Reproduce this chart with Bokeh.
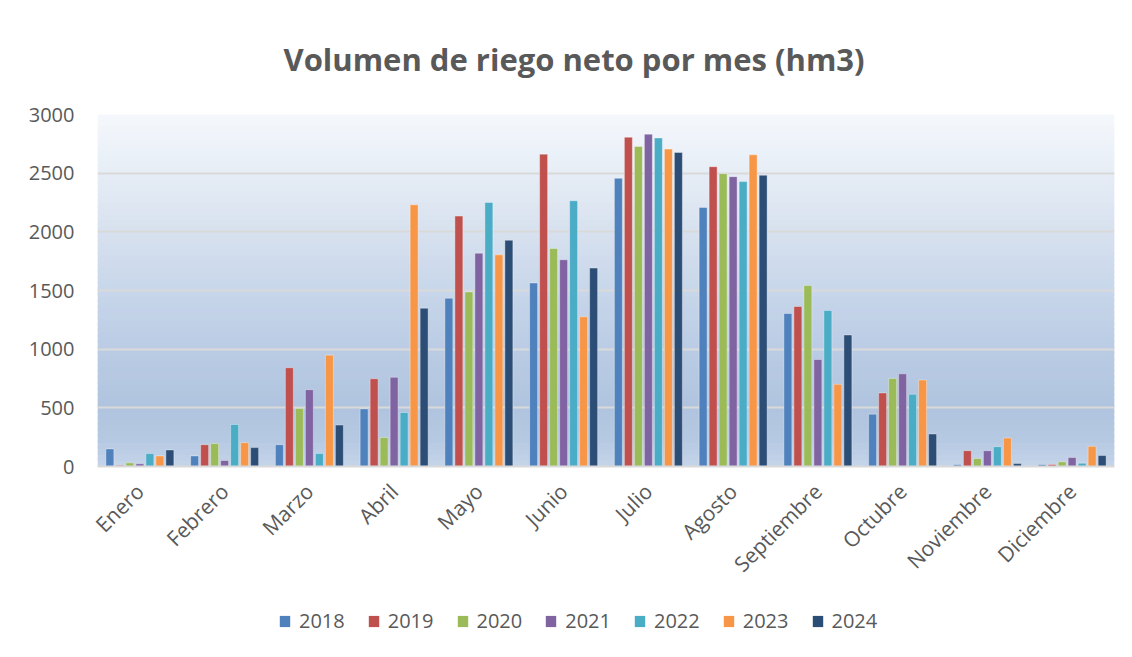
import math
from bokeh.plotting import figure
from bokeh.layouts import column
from bokeh.models import (ColumnDataSource, FactorRange, Range1d, Legend, LegendItem,
                          BoxAnnotation, SingleIntervalTicker)
from bokeh.transform import dodge
from bokeh.embed import file_html
from bokeh.resources import INLINE

months = ["Enero", "Febrero", "Marzo", "Abril", "Mayo", "Junio", "Julio",
          "Agosto", "Septiembre", "Octubre", "Noviembre", "Diciembre"]
years = ["2018", "2019", "2020", "2021", "2022", "2023", "2024"]

v2018 = [150, 90, 186, 491, 1434, 1564, 2456, 2208, 1304, 446, 17, 17]
v2019 = [10, 186, 842, 748, 2134, 2662, 2806, 2555, 1364, 627, 135, 17]
v2020 = [31, 195, 495, 248, 1488, 1858, 2727, 2496, 1542, 751, 68, 40]
v2021 = [23, 51, 655, 760, 1818, 1762, 2832, 2470, 912, 790, 135, 76]
v2022 = [110, 358, 110, 460, 2250, 2265, 2800, 2428, 1330, 616, 169, 28]
v2023 = [90, 203, 949, 2230, 1804, 1276, 2705, 2656, 700, 737, 243, 172]
v2024 = [141, 161, 353, 1349, 1928, 1691, 2676, 2482, 1121, 277, 25, 93]
series = [v2018, v2019, v2020, v2021, v2022, v2023, v2024]

colors = ["#4f81bd", "#c0504d", "#9bbb59", "#8064a2", "#4bacc6", "#f79646", "#2c4d75"]
TEXT = "#595959"
GRID = "#d9d9d9"

data = {"month": months}
for y, v in zip(years, series):
    data[y] = v
source = ColumnDataSource(data)

x_range = FactorRange(*months)
p = figure(x_range=x_range, y_range=Range1d(0, 3000),
           width=1132, height=590, output_backend="svg", toolbar_location=None,
           min_border_left=97, min_border_right=18, min_border_top=112,
           min_border_bottom=124)
p.outline_line_color = None
p.background_fill_color = "white"
p.border_fill_color = "white"

# title
p.title.text = "Volumen de riego neto por mes (hm3)"
p.title.align = "left"
p.title.offset = 186
p.title.standoff = 70
p.title.text_font = "Open Sans"
p.title.text_font_style = "bold"
p.title.text_font_size = "31px"
p.title.text_color = TEXT

# gradient background of the plot area
stops = [(0, "#c5d4e9"), (250, "#b4c8e1"), (500, "#b0c4df"), (1000, "#bacce4"),
         (1500, "#c8d6ea"), (2000, "#d7e1ef"), (2500, "#e6edf6"), (3000, "#f5f8fc")]

def hex2rgb(h):
    return tuple(int(h[i:i + 2], 16) for i in (1, 3, 5))

def color_at(yv):
    for (y0, c0), (y1, c1) in zip(stops[:-1], stops[1:]):
        if y0 <= yv <= y1:
            t = (yv - y0) / (y1 - y0)
            a, b = hex2rgb(c0), hex2rgb(c1)
            return "#%02x%02x%02x" % tuple(round(a[i] + (b[i] - a[i]) * t) for i in range(3))
    return stops[-1][1]

nb = 60
step = 3000 / nb
for i in range(nb):
    b0 = i * step
    p.add_layout(BoxAnnotation(bottom=b0, top=b0 + step + 30, fill_color=color_at(b0 + step / 2),
                               fill_alpha=1, line_color=None, level="image"))

bar_w = 0.094
pitch = 0.118
for i, (y, c) in enumerate(zip(years, colors)):
    p.vbar(x=dodge("month", (i - 3) * pitch, range=x_range), top=y, width=bar_w,
           source=source, fill_color=c, line_color="white", line_alpha=0.35, line_width=1)

# grid
p.xgrid.grid_line_color = None
p.ygrid.grid_line_color = GRID
p.ygrid.grid_line_width = 2

# axes
p.yaxis.ticker = SingleIntervalTicker(interval=500)
p.yaxis.axis_line_color = None
p.yaxis.major_tick_line_color = None
p.yaxis.minor_tick_line_color = None
p.yaxis.major_label_standoff = 17
p.yaxis.major_label_text_font = "Open Sans"
p.yaxis.major_label_text_font_size = "20px"
p.yaxis.major_label_text_color = TEXT

p.xaxis.axis_line_color = GRID
p.xaxis.axis_line_width = 2
p.xaxis.major_tick_line_color = None
p.xaxis.minor_tick_line_color = None
p.xaxis.major_label_orientation = math.pi / 4
p.xaxis.major_label_standoff = 15
p.xaxis.major_label_text_font = "Open Sans"
p.xaxis.major_label_text_font_size = "21px"
p.xaxis.major_label_text_color = TEXT

# legend strip: a second canvas whose renderers are hidden, so only the legend shows
p2 = figure(x_range=x_range, y_range=Range1d(-10, -5), width=1132, height=67,
            output_backend="svg", toolbar_location=None,
            x_axis_location=None, y_axis_location=None,
            min_border_left=0, min_border_right=0, min_border_top=0, min_border_bottom=0)
p2.grid.visible = False
p2.outline_line_color = None
p2.background_fill_color = "white"
p2.border_fill_color = "white"
leg_r = []
for i, (y, c) in enumerate(zip(years, colors)):
    leg_r.append(p2.vbar(x=dodge("month", (i - 3) * pitch, range=x_range), top=y, width=bar_w,
                         source=source, fill_color=c, line_color=None, visible=False))
legend = Legend(items=[LegendItem(label=y, renderers=[r]) for y, r in zip(years, leg_r)],
                orientation="horizontal", location=(181, 23),
                label_text_font="Open Sans", label_text_font_size="20px",
                label_text_color=TEXT, glyph_width=13, glyph_height=14,
                label_standoff=8, spacing=22, padding=5, margin=0,
                inactive_fill_alpha=0,
                background_fill_alpha=0, border_line_color=None)
p2.add_layout(legend)

layout = column(p, p2, spacing=0)
open("out.html", "w").write(file_html(layout, INLINE))
